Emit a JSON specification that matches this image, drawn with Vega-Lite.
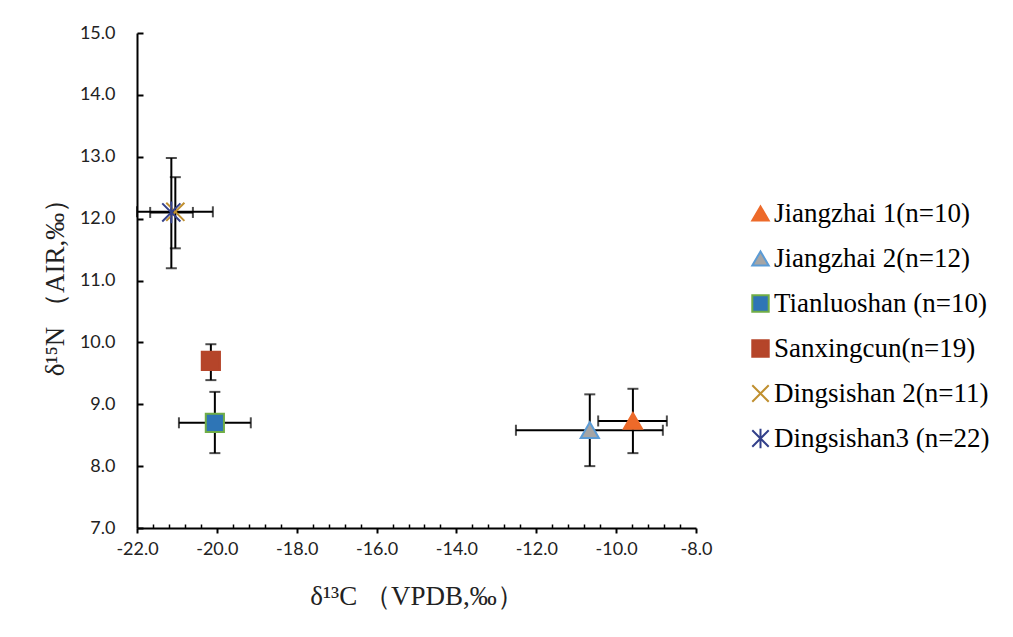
{
  "$schema": "https://vega.github.io/schema/vega-lite/v6.json",
  "width": 559,
  "height": 495,
  "autosize": {"type": "none"},
  "padding": {"left": 137, "top": 33, "right": 317, "bottom": 109},
  "background": "white",
  "config": {
    "view": {"stroke": null},
    "scale": {"continuousPadding": 0},
    "axis": {
      "grid": false,
      "domainColor": "black",
      "domainWidth": 2,
      "tickColor": "black",
      "tickWidth": 2,
      "labelFont": "Lato",
      "labelFontSize": 18,
      "labelColor": "#222222",
      "labelFlush": false,
      "titleFont": "Liberation Serif",
      "titleFontSize": 27,
      "titleFontWeight": "normal",
      "titleColor": "#222222"
    },
    "legend": {"labelFont": "Liberation Serif", "labelFontSize": 27, "labelColor": "black", "labelLimit": 400}
  },
  "resolve": {"axis": {"x": "independent"}},
  "data": {
    "values": [
      {"group": "Jiangzhai 1(n=10)", "x": -9.58, "y": 8.73, "xmin": -10.45, "xmax": -8.73, "ymin": 8.21, "ymax": 9.25},
      {"group": "Jiangzhai 2(n=12)", "x": -10.66, "y": 8.58, "xmin": -12.51, "xmax": -8.83, "ymin": 8.0, "ymax": 9.16},
      {"group": "Tianluoshan (n=10)", "x": -20.05, "y": 8.7, "xmin": -20.95, "xmax": -19.15, "ymin": 8.21, "ymax": 9.2},
      {"group": "Sanxingcun(n=19)", "x": -20.15, "y": 9.7, "xmin": null, "xmax": null, "ymin": 9.39, "ymax": 9.97},
      {"group": "Dingsishan 2(n=11)", "x": -21.04, "y": 12.11, "xmin": -22.0, "xmax": -20.1, "ymin": 11.52, "ymax": 12.67},
      {"group": "Dingsishan3 (n=22)", "x": -21.14, "y": 12.1, "xmin": -21.67, "xmax": -20.6, "ymin": 11.2, "ymax": 12.98}
    ]
  },
  "layer": [
    {
      "transform": [{"filter": "isValid(datum.xmin)"}],
      "mark": {"type": "errorbar", "ticks": {"size": 11, "thickness": 2, "color": "black"}, "rule": {"strokeWidth": 2, "color": "black"}},
      "encoding": {
        "x": {"field": "xmin", "type": "quantitative", "scale": {"domain": [-22, -8], "nice": false, "zero": false, "padding": 0},
          "axis": {"orient": "bottom", "title": "δ¹³C （VPDB,‰）", "values": [-22, -20, -18, -16, -14, -12, -10, -8], "labelExpr": "replace(format(datum.value, '.1f'), '\u2212', '-')", "tickSize": 5, "labelPadding": 7, "titlePadding": 25}},
        "x2": {"field": "xmax"},
        "y": {"field": "y", "type": "quantitative", "scale": {"domain": [7, 15], "nice": false, "zero": false, "padding": 0},
          "axis": {"title": "δ¹⁵N （AIR,‰）", "values": [7, 8, 9, 10, 11, 12, 13, 14, 15], "format": ".1f", "tickSize": -6, "labelPadding": 28, "titlePadding": 10}}
      }
    },
    {
      "mark": {"type": "errorbar", "ticks": {"size": 11, "thickness": 2, "color": "black"}, "rule": {"strokeWidth": 2, "color": "black"}},
      "encoding": {
        "x": {"field": "x", "type": "quantitative",
          "axis": {"orient": "bottom", "title": null, "labels": false, "domain": false, "tickSize": -4, "tickWidth": 1.5,
            "values": [-21.6, -21.2, -20.8, -20.4, -19.6, -19.2, -18.8, -18.4, -17.6, -17.2, -16.8, -16.4, -15.6, -15.2, -14.8, -14.4, -13.6, -13.2, -12.8, -12.4, -11.6, -11.2, -10.8, -10.4, -9.6, -9.2, -8.8, -8.4]}},
        "y": {"field": "ymin", "type": "quantitative", "axis": {"title": "δ¹⁵N （AIR,‰）"}},
        "y2": {"field": "ymax"}
      }
    },
    {
      "mark": {"type": "point", "filled": true, "opacity": 1, "strokeWidth": 2, "size": 330},
      "encoding": {
        "x": {"field": "x", "type": "quantitative", "axis": null},
        "y": {"field": "y", "type": "quantitative", "axis": {"title": "δ¹⁵N （AIR,‰）"}},
        "shape": {"field": "group", "type": "nominal",
          "scale": {"domain": ["Jiangzhai 1(n=10)", "Jiangzhai 2(n=12)", "Tianluoshan (n=10)", "Sanxingcun(n=19)", "Dingsishan 2(n=11)", "Dingsishan3 (n=22)"],
            "range": ["triangle-up", "triangle-up", "square", "square", "M-1,-1L1,1M1,-1L-1,1", "M-1,-1L1,1M1,-1L-1,1M0,-1.2L0,1.2"]},
          "legend": {"orient": "none", "legendX": 610, "legendY": 167, "title": null, "labelFont": "Liberation Serif", "labelFontSize": 27, "labelColor": "black", "labelLimit": 400, "symbolSize": 270, "symbolStrokeWidth": 2, "rowPadding": 17, "labelOffset": 0}},
        "fill": {"field": "group", "type": "nominal",
          "scale": {"domain": ["Jiangzhai 1(n=10)", "Jiangzhai 2(n=12)", "Tianluoshan (n=10)", "Sanxingcun(n=19)", "Dingsishan 2(n=11)", "Dingsishan3 (n=22)"],
            "range": ["#ED6A2A", "#A5A5A5", "#2E75B6", "#B5452A", "#C09030", "#33408A"]}},
        "stroke": {"field": "group", "type": "nominal",
          "scale": {"domain": ["Jiangzhai 1(n=10)", "Jiangzhai 2(n=12)", "Tianluoshan (n=10)", "Sanxingcun(n=19)", "Dingsishan 2(n=11)", "Dingsishan3 (n=22)"],
            "range": ["#ED6A2A", "#5B9BD5", "#70AD47", "#B5452A", "#C09030", "#33408A"]}}
      }
    }
  ]
}
